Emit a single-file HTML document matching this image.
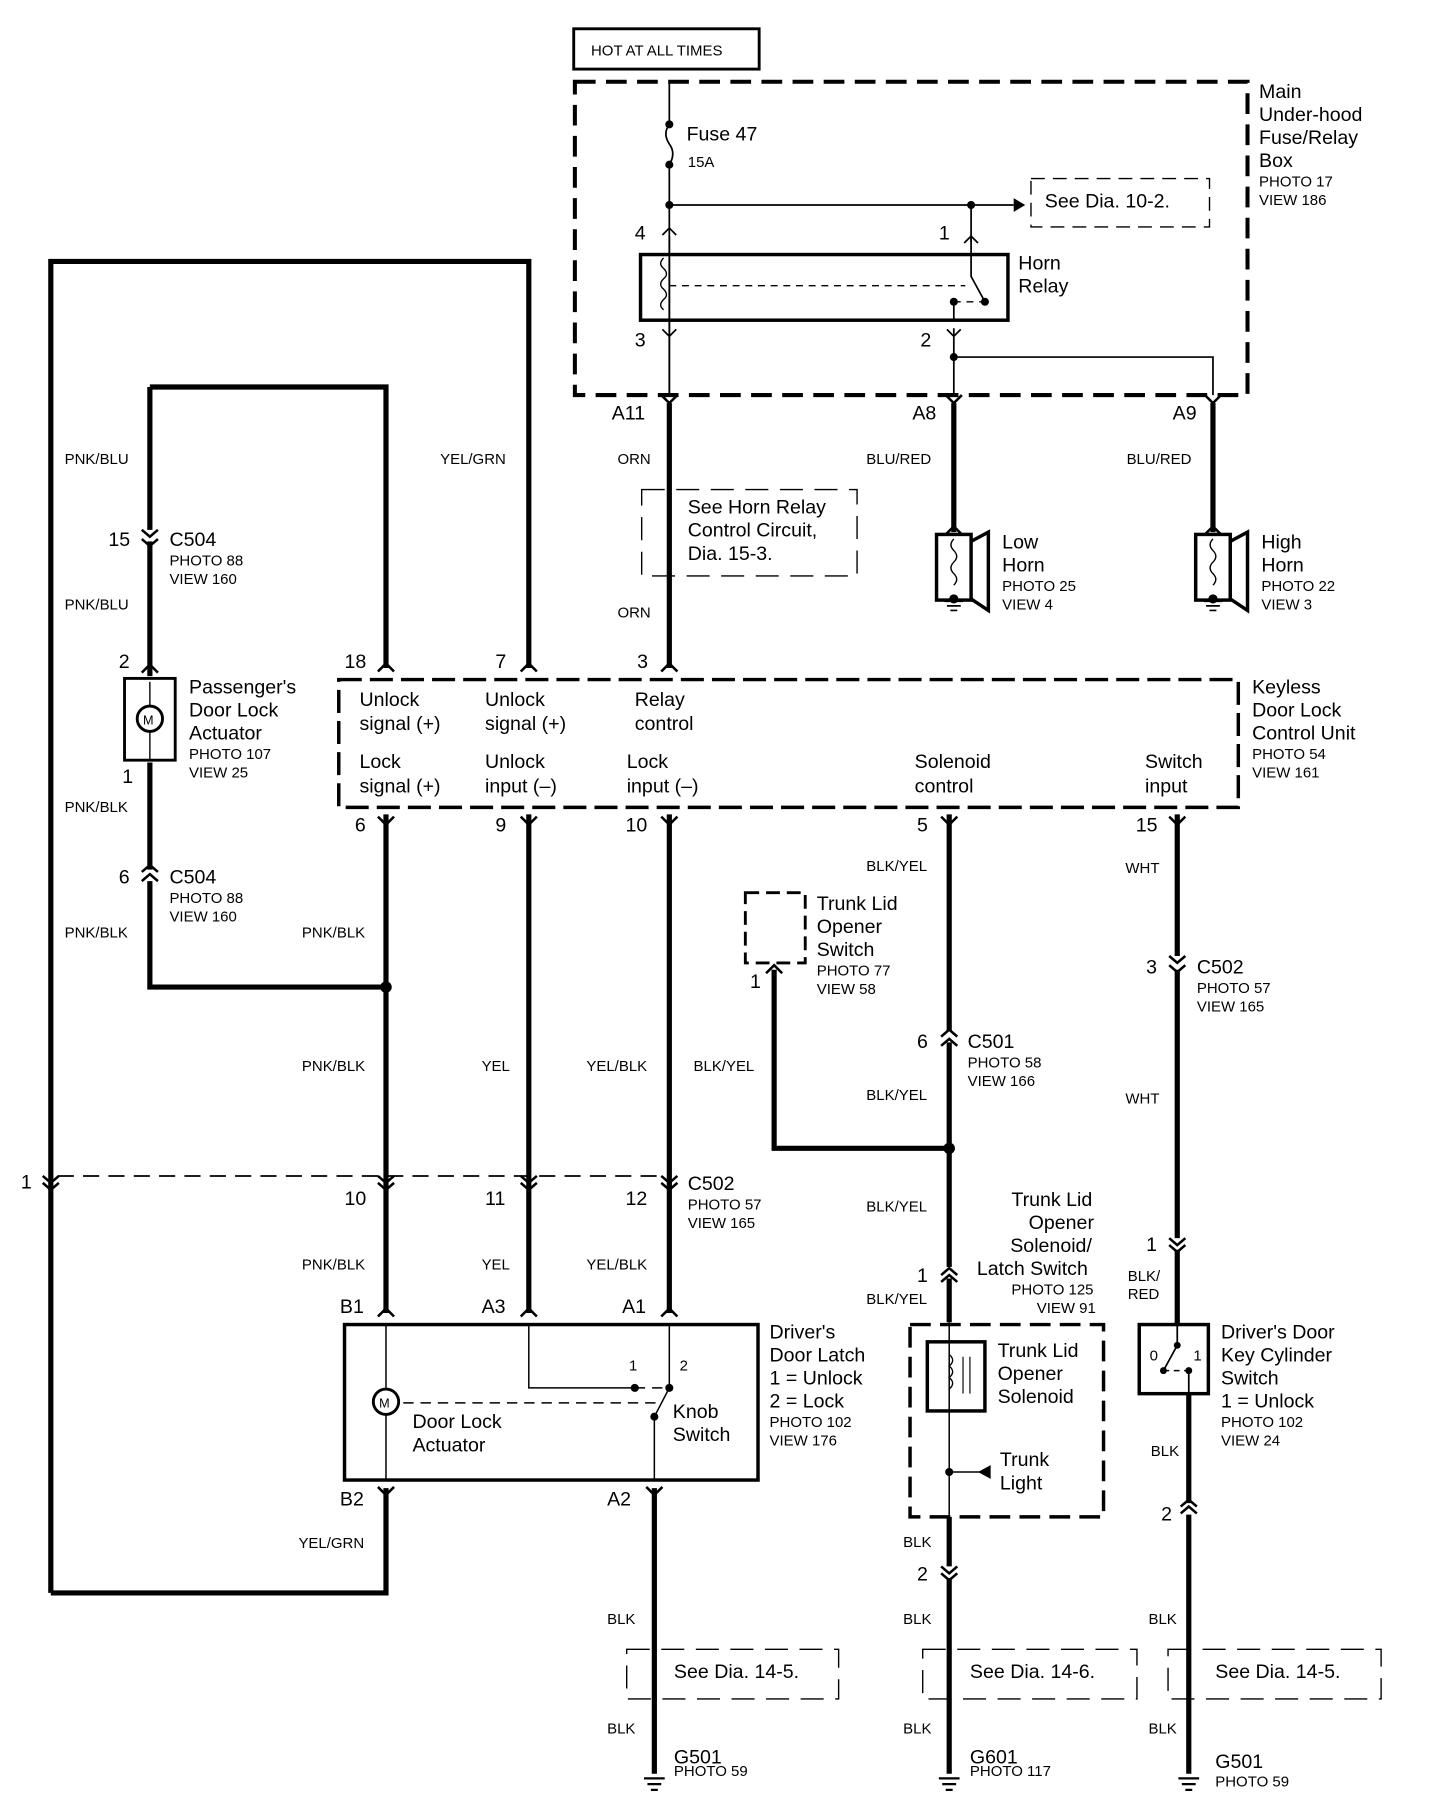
<!DOCTYPE html>
<html><head><meta charset="utf-8"><style>
html,body{margin:0;padding:0;background:#fff;}
svg{display:block;}
text{font-family:"Liberation Sans",sans-serif;fill:#000;}
.b{font-size:17px;}
.s{font-size:13px;}
.w{font-size:13px;}
</style></head><body>
<svg width="1440" height="1806" viewBox="0 0 1250 1568" xmlns="http://www.w3.org/2000/svg">
<rect width="1250" height="1568" fill="#fff"/>
<g fill="none" stroke="#000">
<rect x="498" y="25" width="161" height="35" stroke-width="2.5"/>
<rect x="499" y="71" width="584" height="272" stroke-width="3.5" stroke-dasharray="18,9"/>
<path d="M581 71V108 M581 143V343" stroke-width="1.5"/>
<path d="M581 108 q-6 8 0 17 q6 8 0 18" stroke-width="1.5"/>
<path d="M581 178H880 M843 178V210" stroke-width="1.5"/>
<rect x="895" y="155" width="155" height="42" stroke-width="1.2" stroke-dasharray="12,7"/>
<rect x="556" y="221" width="319" height="57" stroke-width="3"/>
<path d="M581 205V343 M828 285V343 M828 310H1053V343" stroke-width="1.5"/>
<path d="M843 205V240 L855 262 M828 262V278" stroke-width="1.5"/>
<path d="M581 248H838 M828 262H855" stroke-width="1.2" stroke-dasharray="6,5"/>
<path d="M576 224 q-5 5 0 9 q5 5 0 9 q-5 5 0 9 q5 5 0 9 q-5 5 0 9" stroke-width="1.2"/>
<path d="M575 204 l6-6 6 6 M837 211 l6-6 6 6 M575 286 l6 6 6-6 M822 286 l6 6 6-6" stroke-width="1.5"/>
<g stroke-width="4.5">
<path d="M581 350V580 M828 350V462 M1053 350V462"/>
<path d="M44 1383V227H459V580 M44 1383H335V1292"/>
<path d="M130 336H335V580 M130 336V460 M130 470V587 M130 662V755 M130 765V857H335"/>
<path d="M335 707V1140 M459 707V1140 M581 707V1140 M568 1292V1540"/>
<path d="M824 707V895 M824 905V1100 M824 1110V1148 M824 1317V1360 M824 1370V1540"/>
<path d="M1022 707V830 M1022 842V1075 M1022 1085V1150 M1032 1210V1305 M1032 1315V1540"/>
<path d="M672 842V997H824"/>
</g>
<g stroke-width="2.2">
<path d="M574 343l7 7 7-7 M821 343l7 7 7-7 M1046 343l7 7 7-7"/>
<path d="M574 583l7-7 7 7 M328 583l7-7 7 7 M452 583l7-7 7 7 M123 584l7-7 7 7"/>
<path d="M328 709l7 7 7-7 M452 709l7 7 7-7 M574 709l7 7 7-7 M817 709l7 7 7-7 M1015 709l7 7 7-7"/>
<path d="M123 460l7 6 7-6 M123 468l7 6 7-6 M123 757l7-6 7 6 M123 765l7-6 7 6"/>
<path d="M1015 830l7 6 7-6 M1015 838l7 6 7-6 M817 900l7-6 7 6 M817 908l7-6 7 6"/>
<path d="M37 1021l7 6 7-6 M37 1027l7 6 7-6 M328 1021l7 6 7-6 M328 1027l7 6 7-6 M452 1021l7 6 7-6 M452 1027l7 6 7-6 M574 1021l7 6 7-6 M574 1027l7 6 7-6"/>
<path d="M328 1143l7-7 7 7 M452 1143l7-7 7 7 M574 1143l7-7 7 7 M817 1107l7-6 7 6 M817 1113l7-6 7 6 M1015 1075l7 6 7-6 M1015 1081l7 6 7-6"/>
<path d="M328 1291l7 7 7-7 M561 1291l7 7 7-7 M1025 1308l7-6 7 6 M1025 1314l7-6 7 6 M817 1360l7 6 7-6 M817 1366l7 6 7-6"/>
<path d="M665 845l7-7 7 7 M821 464l7-7 7 7 M1046 464l7-7 7 7"/>
</g>
<path d="M50 1021H575" stroke-width="1.5" stroke-dasharray="14,8"/>
<rect x="557" y="425" width="187" height="75" stroke-width="1.2" stroke-dasharray="20,10"/>
<g stroke-width="3">
<rect x="813" y="464" width="30" height="57"/><path d="M843 470L858 462V530L843 520"/>
<rect x="1038" y="464" width="30" height="57"/><path d="M1068 470L1083 462V530L1068 520"/>
</g>
<path d="M828 468 q-5 5 0 10 q5 5 0 10 q-5 5 0 10 q5 5 0 10 M1053 468 q-5 5 0 10 q5 5 0 10 q-5 5 0 10 q5 5 0 10" stroke-width="1.2"/>
<path d="M820 522h16 M822 526h12 M825 530h6 M1045 522h16 M1047 526h12 M1050 530h6" stroke-width="1.5"/>
<rect x="108" y="589" width="44" height="71" stroke-width="2.5"/>
<path d="M130 592V660" stroke-width="1.2"/>
<circle cx="130" cy="624" r="11" fill="#fff" stroke-width="2.5"/>
<rect x="294" y="590" width="781" height="111" stroke-width="3" stroke-dasharray="20,7"/>
<rect x="647" y="775" width="52" height="61" stroke-width="2.5" stroke-dasharray="12,6"/>
<rect x="299" y="1150" width="359" height="135" stroke-width="3"/>
<path d="M335 1150V1285 M459 1150V1205H551 M581 1150V1205 M581 1205L568 1230V1285" stroke-width="1.3"/>
<path d="M335 1218H573 M551 1205H581" stroke-width="1.3" stroke-dasharray="9,6"/>
<circle cx="335" cy="1217" r="11" fill="#fff" stroke-width="2.5"/>
<rect x="790" y="1150" width="168" height="167" stroke-width="3" stroke-dasharray="18,8"/>
<rect x="805" y="1165" width="50" height="60" stroke-width="3"/>
<path d="M824 1148V1317 M824 1278H852" stroke-width="1.3"/>
<path d="M836 1178V1210 M842 1178V1210" stroke-width="1"/>
<path d="M824 1176 q6 5 0 10 q6 5 0 10 q6 5 0 10" stroke-width="1.2"/>
<rect x="989" y="1150" width="60" height="60" stroke-width="3"/>
<path d="M1022 1150V1168 L1010 1190 M1032 1190V1210" stroke-width="1.5"/>
<path d="M1010 1190H1032" stroke-width="1.2" stroke-dasharray="5,4"/>
<rect x="544" y="1432" width="184" height="43" stroke-width="1.2" stroke-dasharray="20,10"/>
<rect x="801" y="1432" width="186" height="43" stroke-width="1.2" stroke-dasharray="20,10"/>
<rect x="1014" y="1432" width="185" height="43" stroke-width="1.2" stroke-dasharray="20,10"/>
<path d="M559 1544h18 M562 1549h12 M565 1554h6 M815 1544h18 M818 1549h12 M821 1554h6 M1023 1544h18 M1026 1549h12 M1029 1554h6" stroke-width="2"/>
</g>
<g fill="#000">
<circle cx="581" cy="108" r="3.5"/><circle cx="581" cy="143" r="3.5"/><circle cx="581" cy="178" r="3.5"/><circle cx="843" cy="178" r="3.5"/>
<circle cx="828" cy="310" r="3.5"/><circle cx="855" cy="262" r="3.5"/><circle cx="828" cy="262" r="3.5"/>
<path d="M880 172L890 178L880 184Z"/>
<circle cx="335" cy="857" r="5"/><circle cx="824" cy="997" r="5"/>
<circle cx="551" cy="1205" r="3.5"/><circle cx="581" cy="1205" r="3.5"/><circle cx="568" cy="1230" r="3.5"/>
<circle cx="824" cy="1278" r="3.5"/><path d="M860 1272L849 1278L860 1284Z"/>
<circle cx="1022" cy="1168" r="3"/><circle cx="1010" cy="1190" r="3"/><circle cx="1032" cy="1190" r="3"/>
<circle cx="828" cy="520" r="4"/><circle cx="1053" cy="520" r="4"/>
</g>
<g>
<text x="513" y="48" class="s">HOT AT ALL TIMES</text>
<text x="596" y="122" class="b">Fuse 47</text>
<text x="597" y="145" class="s">15A</text>
<text x="907" y="180" class="b">See Dia. 10-2.</text>
<text x="1093" y="85" class="b">Main</text>
<text x="1093" y="105" class="b">Under-hood</text>
<text x="1093" y="125" class="b">Fuse/Relay</text>
<text x="1093" y="145" class="b">Box</text>
<text x="1093" y="162" class="s">PHOTO 17</text>
<text x="1093" y="178" class="s">VIEW 186</text>
<text x="551" y="208" class="b">4</text><text x="815" y="208" class="b">1</text>
<text x="551" y="301" class="b">3</text><text x="799" y="301" class="b">2</text>
<text x="884" y="234" class="b">Horn</text><text x="884" y="254" class="b">Relay</text>
<text x="531" y="364" class="b">A11</text><text x="792" y="364" class="b">A8</text><text x="1018" y="364" class="b">A9</text>
<text x="56" y="403" class="w">PNK/BLU</text><text x="382" y="403" class="w">YEL/GRN</text>
<text x="536" y="403" class="w">ORN</text><text x="752" y="403" class="w">BLU/RED</text><text x="978" y="403" class="w">BLU/RED</text>
<text x="597" y="446" class="b">See Horn Relay</text>
<text x="597" y="466" class="b">Control Circuit,</text>
<text x="597" y="486" class="b">Dia. 15-3.</text>
<text x="870" y="476" class="b">Low</text><text x="870" y="496" class="b">Horn</text>
<text x="870" y="513" class="s">PHOTO 25</text><text x="870" y="529" class="s">VIEW 4</text>
<text x="1095" y="476" class="b">High</text><text x="1095" y="496" class="b">Horn</text>
<text x="1095" y="513" class="s">PHOTO 22</text><text x="1095" y="529" class="s">VIEW 3</text>
<text x="94" y="474" class="b">15</text><text x="147" y="474" class="b">C504</text>
<text x="147" y="491" class="s">PHOTO 88</text><text x="147" y="507" class="s">VIEW 160</text>
<text x="56" y="529" class="w">PNK/BLU</text><text x="536" y="536" class="w">ORN</text>
<text x="103" y="580" class="b">2</text><text x="299" y="580" class="b">18</text><text x="430" y="580" class="b">7</text><text x="553" y="580" class="b">3</text>
<text x="164" y="602" class="b">Passenger's</text><text x="164" y="622" class="b">Door Lock</text><text x="164" y="642" class="b">Actuator</text>
<text x="164" y="659" class="s">PHOTO 107</text><text x="164" y="675" class="s">VIEW 25</text>
<text x="124" y="629" style="font-size:11px">M</text>
<text x="106" y="680" class="b">1</text>
<text x="312" y="613" class="b">Unlock</text><text x="312" y="634" class="b">signal (+)</text>
<text x="421" y="613" class="b">Unlock</text><text x="421" y="634" class="b">signal (+)</text>
<text x="551" y="613" class="b">Relay</text><text x="551" y="634" class="b">control</text>
<text x="312" y="667" class="b">Lock</text><text x="312" y="688" class="b">signal (+)</text>
<text x="421" y="667" class="b">Unlock</text><text x="421" y="688" class="b">input (–)</text>
<text x="544" y="667" class="b">Lock</text><text x="544" y="688" class="b">input (–)</text>
<text x="794" y="667" class="b">Solenoid</text><text x="794" y="688" class="b">control</text>
<text x="994" y="667" class="b">Switch</text><text x="994" y="688" class="b">input</text>
<text x="1087" y="602" class="b">Keyless</text><text x="1087" y="622" class="b">Door Lock</text><text x="1087" y="642" class="b">Control Unit</text>
<text x="1087" y="659" class="s">PHOTO 54</text><text x="1087" y="675" class="s">VIEW 161</text>
<text x="56" y="705" class="w">PNK/BLK</text>
<text x="308" y="722" class="b">6</text><text x="430" y="722" class="b">9</text><text x="543" y="722" class="b">10</text><text x="796" y="722" class="b">5</text><text x="986" y="722" class="b">15</text>
<text x="752" y="756" class="w">BLK/YEL</text><text x="977" y="758" class="w">WHT</text>
<text x="103" y="767" class="b">6</text><text x="147" y="767" class="b">C504</text>
<text x="147" y="784" class="s">PHOTO 88</text><text x="147" y="800" class="s">VIEW 160</text>
<text x="709" y="790" class="b">Trunk Lid</text><text x="709" y="810" class="b">Opener</text><text x="709" y="830" class="b">Switch</text>
<text x="709" y="847" class="s">PHOTO 77</text><text x="709" y="863" class="s">VIEW 58</text>
<text x="56" y="814" class="w">PNK/BLK</text><text x="262" y="814" class="w">PNK/BLK</text>
<text x="995" y="845" class="b">3</text><text x="1039" y="845" class="b">C502</text>
<text x="1039" y="862" class="s">PHOTO 57</text><text x="1039" y="878" class="s">VIEW 165</text>
<text x="651" y="858" class="b">1</text>
<text x="796" y="910" class="b">6</text><text x="840" y="910" class="b">C501</text>
<text x="840" y="927" class="s">PHOTO 58</text><text x="840" y="943" class="s">VIEW 166</text>
<text x="262" y="930" class="w">PNK/BLK</text><text x="418" y="930" class="w">YEL</text><text x="509" y="930" class="w">YEL/BLK</text><text x="602" y="930" class="w">BLK/YEL</text>
<text x="752" y="955" class="w">BLK/YEL</text><text x="977" y="958" class="w">WHT</text>
<text x="18" y="1032" class="b">1</text>
<text x="597" y="1033" class="b">C502</text><text x="597" y="1050" class="s">PHOTO 57</text><text x="597" y="1066" class="s">VIEW 165</text>
<text x="299" y="1046" class="b">10</text><text x="421" y="1046" class="b">11</text><text x="543" y="1046" class="b">12</text>
<text x="878" y="1047" class="b">Trunk Lid</text><text x="893" y="1067" class="b">Opener</text><text x="877" y="1087" class="b">Solenoid/</text><text x="848" y="1107" class="b">Latch Switch</text>
<text x="878" y="1124" class="s">PHOTO 125</text><text x="900" y="1140" class="s">VIEW 91</text>
<text x="752" y="1052" class="w">BLK/YEL</text>
<text x="995" y="1086" class="b">1</text>
<text x="262" y="1102" class="w">PNK/BLK</text><text x="418" y="1102" class="w">YEL</text><text x="509" y="1102" class="w">YEL/BLK</text>
<text x="796" y="1113" class="b">1</text>
<text x="752" y="1132" class="w">BLK/YEL</text>
<text x="979" y="1112" class="w">BLK/</text><text x="979" y="1128" class="w">RED</text>
<text x="295" y="1140" class="b">B1</text><text x="418" y="1140" class="b">A3</text><text x="540" y="1140" class="b">A1</text>
<text x="668" y="1162" class="b">Driver's</text><text x="668" y="1182" class="b">Door Latch</text><text x="668" y="1202" class="b">1 = Unlock</text><text x="668" y="1222" class="b">2 = Lock</text>
<text x="668" y="1239" class="s">PHOTO 102</text><text x="668" y="1255" class="s">VIEW 176</text>
<text x="546" y="1190" class="s">1</text><text x="590" y="1190" class="s">2</text>
<text x="584" y="1231" class="b">Knob</text><text x="584" y="1251" class="b">Switch</text>
<text x="358" y="1240" class="b">Door Lock</text><text x="358" y="1260" class="b">Actuator</text>
<text x="329" y="1222" style="font-size:11px">M</text>
<text x="866" y="1178" class="b">Trunk Lid</text><text x="866" y="1198" class="b">Opener</text><text x="866" y="1218" class="b">Solenoid</text>
<text x="868" y="1273" class="b">Trunk</text><text x="868" y="1293" class="b">Light</text>
<text x="998" y="1181" class="s">0</text><text x="1036" y="1181" class="s">1</text>
<text x="1060" y="1162" class="b">Driver's Door</text><text x="1060" y="1182" class="b">Key Cylinder</text><text x="1060" y="1202" class="b">Switch</text><text x="1060" y="1222" class="b">1 = Unlock</text>
<text x="1060" y="1239" class="s">PHOTO 102</text><text x="1060" y="1255" class="s">VIEW 24</text>
<text x="999" y="1264" class="w">BLK</text>
<text x="295" y="1307" class="b">B2</text><text x="527" y="1307" class="b">A2</text>
<text x="1008" y="1320" class="b">2</text>
<text x="259" y="1344" class="w">YEL/GRN</text><text x="784" y="1343" class="w">BLK</text>
<text x="796" y="1372" class="b">2</text>
<text x="527" y="1410" class="w">BLK</text><text x="784" y="1410" class="w">BLK</text><text x="997" y="1410" class="w">BLK</text>
<text x="585" y="1457" class="b">See Dia. 14-5.</text><text x="842" y="1457" class="b">See Dia. 14-6.</text><text x="1055" y="1457" class="b">See Dia. 14-5.</text>
<text x="527" y="1505" class="w">BLK</text><text x="784" y="1505" class="w">BLK</text><text x="997" y="1505" class="w">BLK</text>
<text x="585" y="1531" class="b">G501</text><text x="585" y="1542" class="s">PHOTO 59</text>
<text x="842" y="1531" class="b">G601</text><text x="842" y="1542" class="s">PHOTO 117</text>
<text x="1055" y="1535" class="b">G501</text><text x="1055" y="1551" class="s">PHOTO 59</text>
</g>
</svg>
</body></html>
